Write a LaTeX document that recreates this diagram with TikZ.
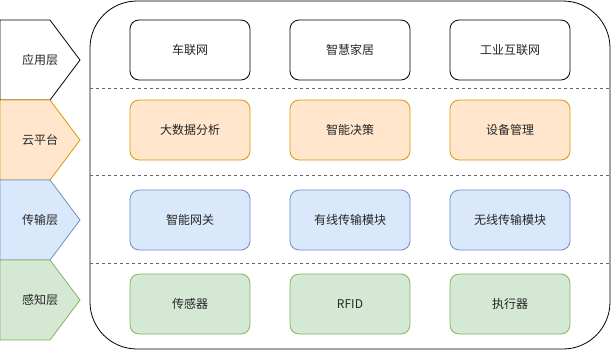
\documentclass[tikz,border=0pt]{standalone}
\usepackage{fontspec}
\setmainfont{Noto Sans CJK SC}
\definecolor{orgfill}{HTML}{FFE6CC}
\definecolor{orgline}{HTML}{D79B00}
\definecolor{bluefill}{HTML}{DAE8FC}
\definecolor{blueline}{HTML}{6C8EBF}
\definecolor{grnfill}{HTML}{D5E8D4}
\definecolor{grnline}{HTML}{82B366}
\begin{document}
\begin{tikzpicture}[x=1pt,y=-1pt,
  every node/.style={font=\fontsize{12}{14}\selectfont, text=black!85},
  chev/.style={line width=0.8pt, line join=miter},
  item/.style={draw, rounded corners=9pt, minimum width=120pt, minimum height=60pt, line width=0.8pt, inner sep=0pt},
  whiteitem/.style={item, draw=black, fill=white},
  orgitem/.style={item, draw=orgline, fill=orgfill},
  blueitem/.style={item, draw=blueline, fill=bluefill},
  grnitem/.style={item, draw=grnline, fill=grnfill},
  sep/.style={dashed, dash pattern=on 3pt off 3pt, draw=black!60, line width=0.8pt}]
\useasboundingbox (0,0) rectangle (612,351);
% big container
\draw[line width=0.8pt, rounded corners=47pt] (90,1) rectangle (610,349);
% chevrons
\draw[chev, fill=white] (0,20) -- (50,20) -- (80,60) -- (50,100) -- (0,100) -- cycle;
\node (l1) at (40,60) {应用层};
\draw[chev, draw=orgline, fill=orgfill] (0,100) -- (50,100) -- (80,140) -- (50,180) -- (0,180) -- cycle;
\node (l2) at (40,140) {云平台};
\draw[chev, draw=blueline, fill=bluefill] (0,180) -- (50,180) -- (80,220) -- (50,260) -- (0,260) -- cycle;
\node (l3) at (40,220) {传输层};
\draw[chev, draw=grnline, fill=grnfill] (0,260) -- (50,260) -- (80,300) -- (50,340) -- (0,340) -- cycle;
\node (l4) at (40,300) {感知层};
% separators
\coordinate (s1a) at (90,88); \coordinate (s1b) at (610,88);
\coordinate (s2a) at (90,175.5); \coordinate (s2b) at (610,175.5);
\coordinate (s3a) at (90,263); \coordinate (s3b) at (610,263);
\draw[sep] (s1a) -- (s1b);
\draw[sep] (s2a) -- (s2b);
\draw[sep] (s3a) -- (s3b);
% row 1
\node[whiteitem] (a1) at (190,50) {车联网};
\node[whiteitem] (a2) at (350,50) {智慧家居};
\node[whiteitem] (a3) at (510,50) {工业互联网};
% row 2
\node[orgitem] (b1) at (190,130) {大数据分析};
\node[orgitem] (b2) at (350,130) {智能决策};
\node[orgitem] (b3) at (510,130) {设备管理};
% row 3
\node[blueitem] (c1) at (190,220) {智能网关};
\node[blueitem] (c2) at (350,220) {有线传输模块};
\node[blueitem] (c3) at (510,220) {无线传输模块};
% row 4
\node[grnitem] (d1) at (190,304) {传感器};
\node[grnitem] (d2) at (350,304) {RFID};
\node[grnitem] (d3) at (510,304) {执行器};
\end{tikzpicture}
\end{document}
